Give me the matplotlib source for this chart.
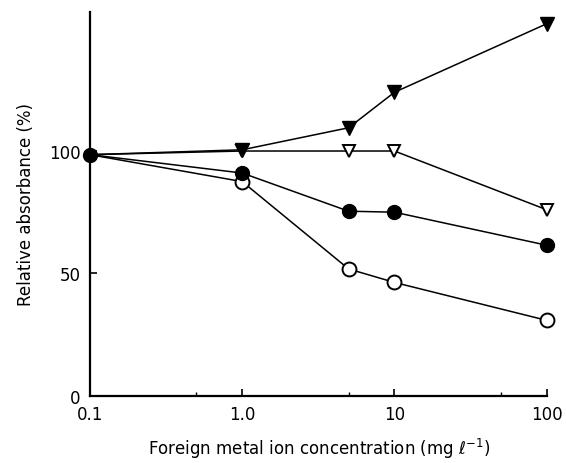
import matplotlib
matplotlib.use("Agg")
import matplotlib.pyplot as plt

# Foreign metal ion concentration (mg/l) and relative absorbance (%)
conc = [0.1, 1.0, 5.0, 10.0, 100.0]
filled_tri = [98.5, 100.5, 109.5, 124.0, 152.0]
open_tri = [98.5, 100.0, 100.0, 100.0, 76.0]
filled_circ = [98.5, 91.0, 75.4, 75.0, 61.5]
open_circ = [98.5, 87.5, 51.8, 46.3, 30.8]

xticks = [0.1, 1.0, 10, 100]
xticklabels = ["0.1", "1.0", "10", "100"]
yticks = [0, 50, 100]

fig = plt.figure(figsize=(5.66, 4.64), dpi=100)
ax = fig.add_axes([0.159, 0.145, 0.808, 0.828])

lw = 1.1
# the common starting point is drawn once, as the filled circle
skip_first = slice(1, None)
ax.plot(conc, filled_tri, color="black", lw=lw, marker="v", ms=10,
        mfc="black", mec="black", markevery=skip_first, clip_on=False, zorder=3)
ax.plot(conc, open_tri, color="black", lw=lw, marker="v", ms=9,
        mfc="white", mec="black", mew=1.4, markevery=skip_first,
        clip_on=False, zorder=2)
ax.plot(conc, open_circ, color="black", lw=lw, marker="o", ms=10,
        mfc="white", mec="black", mew=1.4, markevery=skip_first,
        clip_on=False, zorder=2)
ax.plot(conc, filled_circ, color="black", lw=lw, marker="o", ms=10,
        mfc="black", mec="black", clip_on=False, zorder=4)

ax.set_xscale("log")
ax.set_xlim(0.1, 101)
ax.set_ylim(0, 157)

ax.set_xticks(xticks)
ax.set_xticklabels(xticklabels)
ax.set_xticks([0.5, 5, 50], minor=True)
ax.set_yticks(yticks)
ax.tick_params(axis="both", which="major", direction="in", length=5,
               width=1.2, labelsize=12, pad=7)
ax.tick_params(axis="x", which="minor", direction="in", length=3, width=1.0,
               labelbottom=False)
ax.tick_params(axis="y", which="minor", left=False)

for side in ("top", "right"):
    ax.spines[side].set_visible(False)
for side in ("left", "bottom"):
    ax.spines[side].set_linewidth(1.6)

ax.set_xlabel("Foreign metal ion concentration (mg \u2113$^{-1}$)",
              fontsize=12, labelpad=9)
ax.set_ylabel("Relative absorbance (%)", fontsize=12, labelpad=10)

fig.savefig("out.png", dpi=100)
